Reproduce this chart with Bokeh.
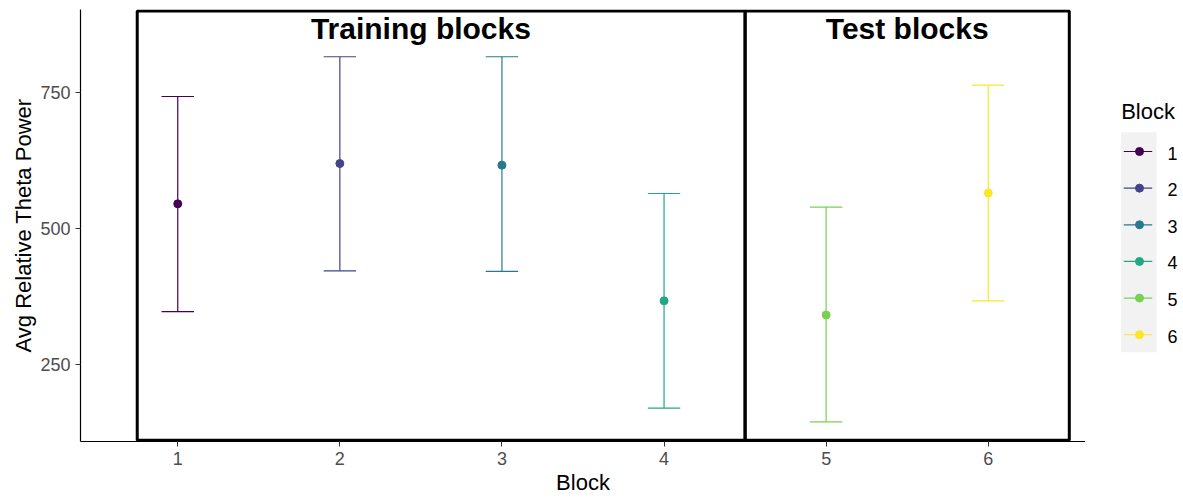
from bokeh.plotting import figure
from bokeh.models import Range1d, FixedTicker
from bokeh.layouts import row
from bokeh.embed import file_html
from bokeh.resources import INLINE
from bokeh.core.properties import value

# ---------------- data ----------------
blocks = [1, 2, 3, 4, 5, 6]
block_labels = ["1", "2", "3", "4", "5", "6"]
mean_power = [545, 619, 616, 367, 341, 565]
lower_ci = [347, 422, 421, 170, 145, 367]
upper_ci = [742, 815, 815, 564, 539, 763]
colors = ["#440154", "#414487", "#2A788E", "#22A884", "#7AD151", "#FDE725"]

regions = ["Training blocks", "Test blocks"]
region_start = [0.75, 4.5]
region_end = [4.5, 6.5]
region_center = [2.5, 5.5]

y_ticks = [250, 500, 750]

FONT = "Liberation Sans"
H = 499
TOP, BOTTOM = 9, 58

# ---------------- main plot ----------------
y_lo, y_hi = 108.8, 901.7
p = figure(width=1085, height=H,
           x_range=Range1d(0.4, 6.6), y_range=Range1d(y_lo, y_hi),
           output_backend="svg", toolbar_location=None,
           min_border_left=80, min_border_right=0,
           min_border_top=TOP, min_border_bottom=0)
p.outline_line_color = None
p.grid.visible = False
p.background_fill_color = "white"

# region boxes
p.quad(left=region_start, right=region_end,
       bottom=[y_lo + 2.2] * len(regions), top=[y_hi - 2.8] * len(regions),
       fill_color=None, line_color="black", line_width=3)

# error bars
cap = 0.1
p.segment(x0=blocks, y0=lower_ci, x1=blocks, y1=upper_ci,
          line_color=colors, line_width=1.2)
p.segment(x0=[b - cap for b in blocks], y0=lower_ci,
          x1=[b + cap for b in blocks], y1=lower_ci,
          line_color=colors, line_width=1.2)
p.segment(x0=[b - cap for b in blocks], y0=upper_ci,
          x1=[b + cap for b in blocks], y1=upper_ci,
          line_color=colors, line_width=1.2)
p.scatter(blocks, mean_power, size=8, fill_color=colors, line_color=colors)

# region titles
p.text(x=region_center, y=[866] * len(regions), text=regions,
       text_font=value(FONT), text_font_style="bold",
       text_font_size="30px", text_align="center",
       text_baseline="alphabetic", text_color="black")

# axes
for ax in (p.xaxis, p.yaxis):
    ax.axis_line_color = "black"
    ax.axis_line_width = 1.2
    ax.major_tick_line_color = "#333333"
    ax.major_tick_in = 0
    ax.major_tick_out = 5
    ax.minor_tick_line_color = None
    ax.major_label_text_font = FONT
    ax.major_label_text_font_size = "18px"
    ax.major_label_text_color = "#4D4D4D"
    ax.axis_label_text_font = FONT
    ax.axis_label_text_font_size = "22px"
    ax.axis_label_text_font_style = "normal"
    ax.axis_label_text_color = "black"

p.xaxis.ticker = FixedTicker(ticks=blocks)
p.xaxis.major_label_overrides = {b: l for b, l in zip(blocks, block_labels)}
p.xaxis.axis_label = "Block"
p.xaxis.major_label_standoff = 5
p.xaxis.axis_label_standoff = 2

p.yaxis.ticker = FixedTicker(ticks=y_ticks)
p.yaxis.axis_label = "Avg Relative Theta Power"
p.yaxis.major_label_standoff = 5
p.yaxis.axis_label_standoff = 1

# ---------------- legend panel (pixel-like coordinates) ----------------
lg = figure(width=98, height=H, x_range=Range1d(0, 98), y_range=Range1d(H - BOTTOM, TOP),
            output_backend="svg", toolbar_location=None,
            x_axis_location=None, y_axis_location=None,
            min_border_left=0, min_border_right=0,
            min_border_top=TOP, min_border_bottom=BOTTOM)
lg.outline_line_color = None
lg.grid.visible = False

item_y = [151 + 36.65 * i for i in range(len(blocks))]
lg.quad(left=[35.7], right=[71], top=[131.7], bottom=[351.7],
        fill_color="#F2F2F2", line_color=None)
lg.segment(x0=[38.3] * len(blocks), x1=[66.7] * len(blocks), y0=item_y, y1=item_y,
           line_color=colors, line_width=1.2)
lg.scatter([54] * len(blocks), item_y, size=8, fill_color=colors, line_color=colors)
lg.text(x=[82] * len(blocks), y=[y + 1.5 for y in item_y], text=block_labels,
        text_font=value(FONT), text_font_size="18px", text_color="black",
        text_align="left", text_baseline="alphabetic")
lg.text(x=[35.7], y=[111.3], text=["Block"],
        text_font=value(FONT), text_font_size="22px", text_color="black",
        text_align="left", text_baseline="alphabetic")

layout = row(p, lg)
open("out.html", "w").write(file_html(layout, INLINE))
